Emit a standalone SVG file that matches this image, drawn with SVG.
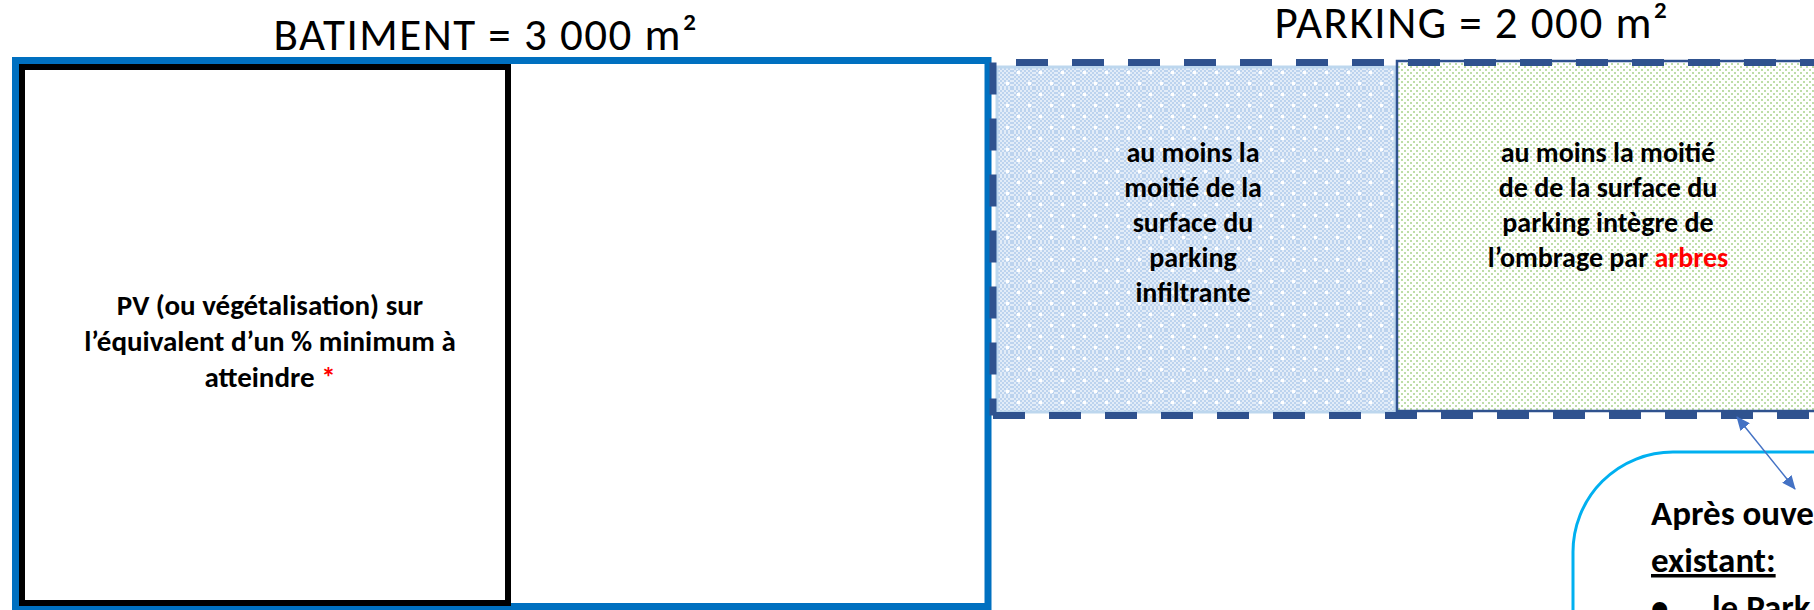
<svg xmlns="http://www.w3.org/2000/svg" width="1814" height="610" viewBox="0 0 1814 610">
<style>
.title{font-family:Carlito,Lato,"Liberation Sans",sans-serif;font-size:45px;fill:#000;letter-spacing:1.5px}
.lbl{font-family:Carlito,Lato,"Liberation Sans",sans-serif;font-size:28px;font-weight:bold;fill:#000;text-anchor:middle}
.pv{font-size:29px}
.big{font-family:Carlito,Lato,"Liberation Sans",sans-serif;font-size:35px;font-weight:bold;fill:#000}
.red{fill:#FF0000}
.dash{stroke:#2F528F;stroke-width:7;stroke-dasharray:32 24;fill:none}
</style>
<defs>
<pattern id="chk" width="4" height="4" patternUnits="userSpaceOnUse"><rect width="4" height="4" fill="#E2ECF8"/><rect width="2" height="2" fill="#BCD3EE"/><rect x="2" y="2" width="2" height="2" fill="#BCD3EE"/></pattern>
<pattern id="bluehatch" width="22" height="22" patternUnits="userSpaceOnUse"><rect width="22" height="22" fill="url(#chk)"/><rect x="5" y="5" width="3" height="3" fill="#fff"/><rect x="16" y="16" width="3" height="3" fill="#fff"/></pattern>
<pattern id="greendots" width="6" height="6" patternUnits="userSpaceOnUse"><rect width="6" height="6" fill="#fff"/><rect width="2" height="2" fill="#BEDDA9"/><rect x="3" y="3" width="2" height="2" fill="#BEDDA9"/></pattern>
<marker id="ah" viewBox="0 0 14 12" refX="13" refY="6" markerWidth="14" markerHeight="12" markerUnits="userSpaceOnUse" orient="auto-start-reverse"><path d="M0,0 L14,6 L0,12 Z" fill="#4472C4"/></marker>
</defs>
<rect width="1814" height="610" fill="#fff"/>

<g id="batiment">
<text class="title" x="486" y="50" text-anchor="middle">BATIMENT = 3 000 m²</text>
<rect x="15.5" y="60.5" width="972.5" height="546" fill="#fff" stroke="#0070C0" stroke-width="7"/>
</g>

<g id="pv">
<rect x="22" y="67" width="486" height="536" fill="#fff" stroke="#000" stroke-width="6"/>
<text class="lbl pv" x="270" y="315">PV (ou végétalisation) sur</text>
<text class="lbl pv" x="270" y="351">l’équivalent d’un % minimum à</text>
<text class="lbl pv" x="270" y="387">atteindre <tspan class="red">*</tspan></text>
</g>

<g id="parking">
<text class="title" x="1472" y="38" text-anchor="middle">PARKING = 2 000 m²</text>
</g>

<g id="infiltrante">
<rect x="997" y="67" width="398" height="345" fill="url(#bluehatch)" stroke="#BDD7EE" stroke-width="3"/>
<text class="lbl" x="1193" y="162">au moins la</text>
<text class="lbl" x="1193" y="197">moitié de la</text>
<text class="lbl" x="1193" y="232">surface du</text>
<text class="lbl" x="1193" y="267">parking</text>
<text class="lbl" x="1193" y="302">infiltrante</text>
</g>

<g id="ombrage">
<rect x="1397" y="61" width="440" height="350" fill="url(#greendots)" stroke="#2F528F" stroke-width="2.5"/>
<text class="lbl" x="1608" y="162">au moins la moitié</text>
<text class="lbl" x="1608" y="197">de de la surface du</text>
<text class="lbl" x="1608" y="232">parking intègre de</text>
<text class="lbl" x="1608" y="267">l’ombrage par <tspan class="red">arbres</tspan></text>
</g>

<g id="parking-outline">
<line class="dash" x1="1016" y1="62.5" x2="1814" y2="62.5"/>
<line class="dash" x1="993" y1="62.5" x2="993" y2="415.5"/>
<line class="dash" x1="993" y1="415.5" x2="1814" y2="415.5"/>
</g>

<g id="apres">
<rect x="1573" y="452" width="400" height="300" rx="100" ry="100" fill="#fff" stroke="#00B0F0" stroke-width="3"/>
<text class="big" x="1651" y="525">Après ouve</text>
<text class="big" x="1651" y="572" text-decoration="underline">existant:</text>
<text class="big" x="1651" y="619">•</text>
<text class="big" x="1712" y="619">le Park</text>
</g>

<g id="connectors">
<line x1="1737" y1="417" x2="1795" y2="489" stroke="#4472C4" stroke-width="1.5" marker-start="url(#ah)" marker-end="url(#ah)"/>
</g>
</svg>
